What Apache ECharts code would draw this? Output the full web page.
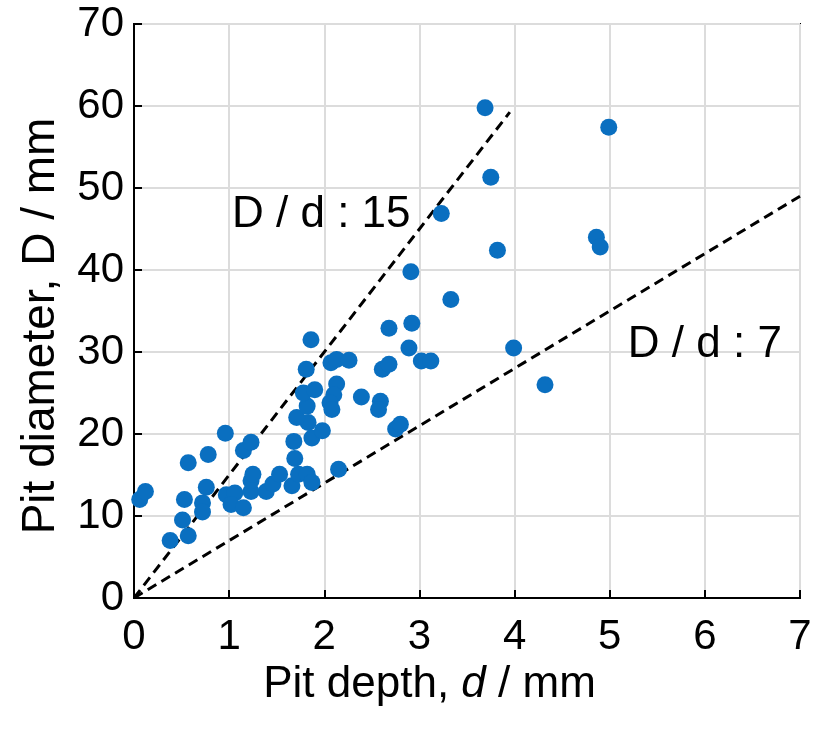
<!DOCTYPE html>
<html>
<head>
<meta charset="utf-8">
<script src="https://cdn.jsdelivr.net/npm/echarts@6/dist/echarts.min.js"></script>
<style>
html,body{margin:0;padding:0;background:#fff;}
#chart{width:818px;height:729px;}
</style>
</head>
<body>
<div id="chart"></div>
<script>
// Pit depth d (mm) and pit diameter D (mm)
const pitDepth = [
  0.06,0.12,0.38,0.51,0.57,0.53,0.57,0.78,0.72,0.72,
  0.76,0.96,1.15,1.23,0.97,1.06,1.02,1.15,1.23,1.23,
  1.25,1.39,1.46,1.53,1.66,1.73,1.82,1.87,2.15,1.69,
  1.68,1.87,1.98,1.83,1.71,1.82,1.78,1.90,1.81,1.86,
  2.07,2.13,2.26,2.13,2.10,2.06,2.08,2.39,2.59,2.57,
  2.75,2.80,2.61,2.68,2.89,3.02,3.12,2.68,2.92,3.33,
  2.91,3.23,3.69,3.75,3.82,3.99,4.32,4.86,4.90,4.99
];
const pitDiameter = [
  12.0,13.0,7.0,9.5,7.6,12.0,16.5,17.5,11.6,10.5,
  13.5,20.1,18.0,19.0,12.6,12.8,11.4,11.0,13.0,14.3,
  15.1,13.0,13.9,15.1,13.7,15.1,15.1,14.1,15.7,17.0,
  19.1,19.5,20.4,21.4,22.0,23.4,25.0,25.4,27.9,31.5,
  28.7,29.1,29.0,26.1,24.8,23.8,23.0,24.5,24.0,23.0,
  20.6,21.2,27.9,28.5,30.5,28.9,28.9,32.9,33.5,36.4,
  39.8,46.9,59.8,51.3,42.4,30.5,26.0,44.0,42.8,57.4
];
// Reference ratio lines D/d
const ratio15Depth = [0, 3.95];
const ratio7Depth = [0, 7];
const ratioValues = [15, 7];
const ratioLabels = ['D / d : 15', 'D / d : 7'];
const ratioLabelPos = [[1.03, 46.7], [5.19, 30.9]];
const xTicks = [0, 7, 1];
const yTicks = [0, 70, 10];

const points = pitDepth.map((d, i) => [d, pitDiameter[i]]);
const line15 = ratio15Depth.map(d => [d, d * ratioValues[0]]);
const line7 = ratio7Depth.map(d => [d, d * ratioValues[1]]);

const FONT = '"Liberation Sans", Arial, Helvetica, sans-serif';
const chart = echarts.init(document.getElementById('chart'), null, {renderer: 'canvas'});
chart.setOption({
  animation: false,
  backgroundColor: '#ffffff',
  grid: {
    left: 134, right: 18, top: 24, bottom: 131,
    show: true, borderColor: '#000', borderWidth: 2, backgroundColor: 'transparent'
  },
  xAxis: {
    type: 'value', min: xTicks[0], max: xTicks[1], interval: xTicks[2],
    name: 'Pit depth, {i|d} / mm',
    nameLocation: 'middle', nameGap: 60,
    nameTextStyle: {
      fontFamily: FONT, fontSize: 44, color: '#000', padding: [0, 75, 0, 0],
      rich: {i: {fontFamily: FONT, fontSize: 44, fontStyle: 'italic', color: '#000'}}
    },
    axisLine: {lineStyle: {color: '#000', width: 2}},
    axisTick: {inside: true, length: 8, lineStyle: {color: '#000', width: 2}},
    axisLabel: {fontFamily: FONT, fontSize: 42, color: '#000', margin: 18},
    splitLine: {show: true, lineStyle: {color: '#dcdcdc', width: 2}}
  },
  yAxis: {
    type: 'value', min: yTicks[0], max: yTicks[1], interval: yTicks[2],
    name: 'Pit diameter, D / mm',
    nameLocation: 'middle', nameGap: 70,
    nameTextStyle: {fontFamily: FONT, fontSize: 46, color: '#000', padding: [0, 30, 0, 0]},
    axisLine: {lineStyle: {color: '#000', width: 2}},
    axisTick: {inside: true, length: 8, lineStyle: {color: '#000', width: 2}},
    axisLabel: {fontFamily: FONT, fontSize: 42, color: '#000', margin: 10},
    splitLine: {show: true, lineStyle: {color: '#dcdcdc', width: 2}}
  },
  series: [
    {
      type: 'line', data: line15, symbol: 'none', z: 3,
      lineStyle: {color: '#000', width: 3, type: [10, 6]}
    },
    {
      type: 'line', data: line7, symbol: 'none', z: 3,
      lineStyle: {color: '#000', width: 3, type: [10, 6]}
    },
    {
      type: 'scatter', data: points, symbol: 'circle', symbolSize: 17, z: 4,
      itemStyle: {color: '#0A6FC0', opacity: 1}
    },
    {
      type: 'scatter', symbolSize: 0, z: 5, silent: true,
      itemStyle: {opacity: 1},
      data: ratioLabelPos.map((p, i) => ({value: p, name: ratioLabels[i]})),
      label: {
        show: true, position: 'inside', align: 'left', verticalAlign: 'middle',
        formatter: p => p.name,
        fontFamily: FONT, fontSize: 44, color: '#000', opacity: 1
      }
    }
  ]
});
</script>
</body>
</html>
